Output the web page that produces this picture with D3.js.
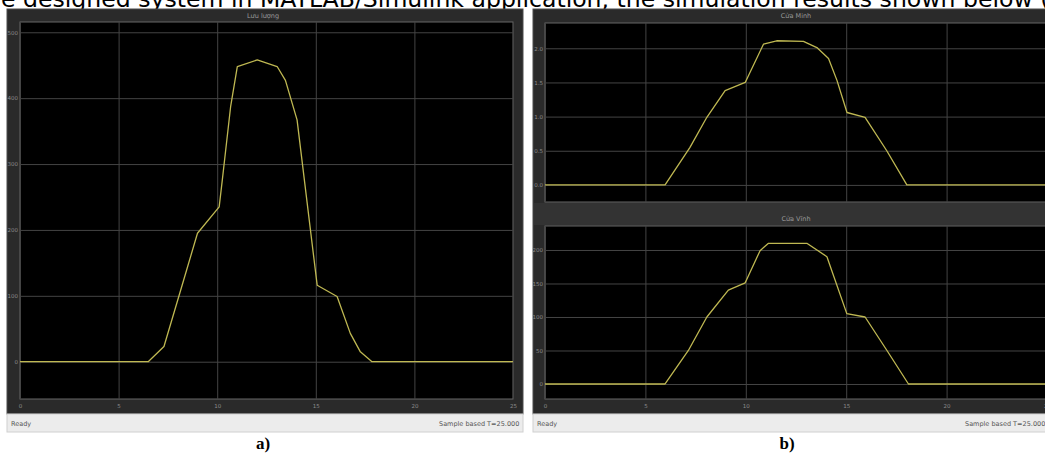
<!DOCTYPE html>
<html>
<head>
<meta charset="utf-8">
<script src="https://cdn.jsdelivr.net/npm/d3@7"></script>
<style>
  body { margin: 0; background: #fff; }
  svg { display: block; }
  .tick text { font-family: "DejaVu Sans", sans-serif; font-size: 5.5px; fill: #8a8a8a; }
</style>
</head>
<body>
<script>
    // Scope a) – single signal
    const timeA = [0, 6.5, 7.3, 8.3, 9.0, 10.1, 10.26, 10.68, 11.02, 12.03, 13.04, 13.46, 14.05, 15.07, 16.08, 16.75, 17.26, 17.85, 25];
    const valuesA = [0, 0, 23, 124, 195, 235, 276, 387, 448, 458, 448, 427, 367, 116, 99, 43, 15, 0, 0];

    // Scope b) – upper signal
    const timeB1 = [0, 5.98, 7.22, 8.06, 8.97, 9.97, 10.88, 11.54, 12.87, 13.54, 14.12, 14.54, 15.04, 15.94, 17.02, 18.02, 25];
    const valuesB1 = [0, 0, 0.55, 0.99, 1.38, 1.5, 2.06, 2.11, 2.1, 2.01, 1.85, 1.53, 1.06, 0.99, 0.5, 0, 0];

    // Scope b) – lower signal
    const timeB2 = [0, 5.98, 7.14, 8.06, 9.13, 9.97, 10.71, 11.13, 13.04, 14.04, 15.03, 15.94, 17.03, 18.1, 25];
    const valuesB2 = [0, 0, 50, 100, 140, 151, 199, 210, 210, 190, 105, 100, 50, 0, 0];

    // Axis limits and tick labels
    const xLimits = [0, 25];
    const xTicks = [0, 5, 10, 15, 20, 25];
    const yLimitsA = [-56.6, 515.6];
    const yTicksA = [0, 100, 200, 300, 400, 500];
    const yLimitsB1 = [-0.25, 2.37];
    const yTicksB1 = [0, 0.5, 1, 1.5, 2];
    const yLimitsB2 = [-22.4, 235.8];
    const yTicksB2 = [0, 50, 100, 150, 200];

    const titles = ["Lưu lượng", "Cửa Minh", "Cửa Vĩnh"];
    const heading = "the designed system in MATLAB/Simulink application, the simulation results shown below (a) and (b)";

    const svg = d3.select("body").append("svg")
      .attr("width", 1045)
      .attr("height", 461);

    // Clipped sentence of the paper at the very top
    const head = svg.append("text")
      .attr("y", 7)
      .style("font-family", "DejaVu Sans, sans-serif")
      .style("font-size", "20px")
      .attr("fill", "#000")
      .text(heading);
    const endIdx = heading.indexOf("(") + 1;
    const span = head.node().getSubStringLength(2, endIdx - 2);
    head.style("font-size", (20 * 1049 / span) + "px");
    head.attr("x", 1 - head.node().getSubStringLength(0, 2));

    // Scope window frame + status bar
    function drawWindow(x0, x1) {
      svg.append("rect")
        .attr("x", x0).attr("y", 9)
        .attr("width", x1 - x0).attr("height", 405)
        .attr("fill", "#2a2a2a")
        .attr("stroke", "#4d4d4d");
      svg.append("rect")
        .attr("x", x0).attr("y", 414)
        .attr("width", x1 - x0).attr("height", 18)
        .attr("fill", "#ececec")
        .attr("stroke", "#d0d0d0");
      svg.append("text")
        .attr("x", x0 + 4).attr("y", 426)
        .style("font-family", "DejaVu Sans, sans-serif")
        .style("font-size", "6.5px")
        .attr("fill", "#555")
        .text("Ready");
      svg.append("text")
        .attr("x", x0 + 432).attr("y", 426)
        .style("font-family", "DejaVu Sans, sans-serif")
        .style("font-size", "6.5px")
        .attr("fill", "#555")
        .text("Sample based  T=25.000");
    }

    // One scope axes: black plot, gray grid, yellow trace
    function drawAxes(box, yLimits, yTicks, times, values, title, titleY) {
      const x = d3.scaleLinear().domain(xLimits).range([box.left, box.left + box.w]);
      const y = d3.scaleLinear().domain(yLimits).range([box.top + box.h, box.top]);

      svg.append("rect")
        .attr("x", box.left).attr("y", box.top)
        .attr("width", box.w).attr("height", box.h)
        .attr("fill", "#000")
        .attr("stroke", "#666");

      // vertical grid + x tick labels under the plot
      const gx = svg.append("g")
        .attr("transform", `translate(0,${box.top})`)
        .call(d3.axisBottom(x).tickValues(xTicks).tickSize(box.h).tickSizeOuter(0));
      gx.select(".domain").remove();
      gx.selectAll(".tick line").attr("stroke", "#444");
      gx.selectAll(".tick text").attr("y", box.h + 5);
      if (!box.xLabels) gx.selectAll(".tick text").remove();

      // horizontal grid + y tick labels
      const gy = svg.append("g")
        .attr("transform", `translate(${box.left},0)`)
        .call(d3.axisLeft(y).tickValues(yTicks).tickSize(-box.w).tickSizeOuter(0).tickPadding(2));
      gy.select(".domain").remove();
      gy.selectAll(".tick line").attr("stroke", "#444");

      const clipId = "clip" + Math.round(box.left) + "_" + Math.round(box.top);
      svg.append("clipPath").attr("id", clipId)
        .append("rect")
        .attr("x", box.left).attr("y", box.top)
        .attr("width", box.w).attr("height", box.h);

      const line = d3.line()
        .x((d, i) => x(times[i]))
        .y(d => y(d));

      svg.append("path")
        .datum(values)
        .attr("clip-path", `url(#${clipId})`)
        .attr("fill", "none")
        .attr("stroke", "#bfb852")
        .attr("stroke-width", 1.3)
        .attr("stroke-linejoin", "round")
        .attr("d", line);

      svg.append("text")
        .attr("x", box.titleX)
        .attr("y", titleY)
        .attr("text-anchor", "middle")
        .style("font-family", "DejaVu Sans, sans-serif")
        .style("font-size", "6.5px")
        .attr("fill", "#999")
        .text(title);
    }

    // a)
    drawWindow(7, 523);
    drawAxes({ left: 20, top: 22, w: 493, h: 377, titleX: 263, xLabels: true }, yLimitsA, yTicksA, timeA, valuesA, titles[0], 18);

    // b)
    drawWindow(533, 1060);
    drawAxes({ left: 545, top: 23, w: 502, h: 179, titleX: 796, xLabels: false }, yLimitsB1, yTicksB1, timeB1, valuesB1, titles[1], 18);
    // band between the two axes of scope b)
    svg.append("rect")
      .attr("x", 534).attr("y", 203)
      .attr("width", 520).attr("height", 22)
      .attr("fill", "#333");
    drawAxes({ left: 545, top: 226, w: 502, h: 173, titleX: 796, xLabels: true }, yLimitsB2, yTicksB2, timeB2, valuesB2, titles[2], 221);

    // Figure labels
    svg.append("text")
      .attr("x", 263).attr("y", 449)
      .attr("text-anchor", "middle")
      .style("font-family", "Liberation Serif, serif")
      .style("font-weight", "bold")
      .style("font-size", "17px")
      .text("a)");

    svg.append("text")
      .attr("x", 787).attr("y", 449)
      .attr("text-anchor", "middle")
      .style("font-family", "Liberation Serif, serif")
      .style("font-weight", "bold")
      .style("font-size", "17px")
      .text("b)");
</script>
</body>
</html>
